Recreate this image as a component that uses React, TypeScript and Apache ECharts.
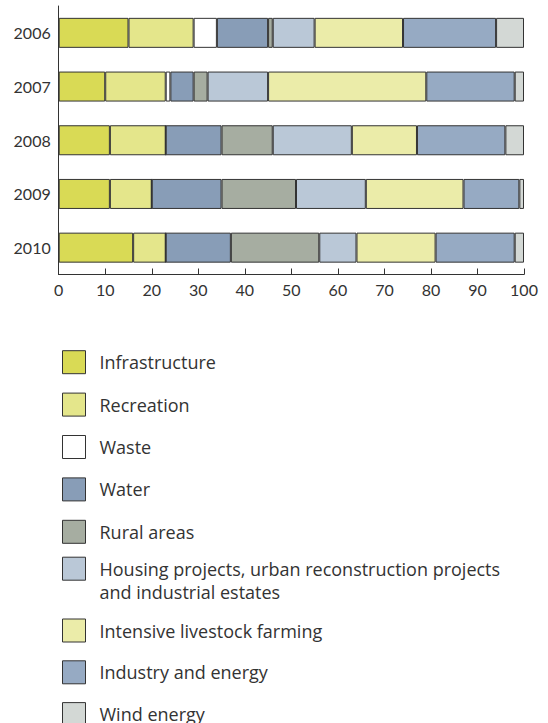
import React, { useEffect, useRef } from "react";
import * as echarts from "echarts";

const years = ["2006", "2007", "2008", "2009", "2010"];
const seriesNames = [
  "Infrastructure",
  "Recreation",
  "Waste",
  "Water",
  "Rural areas",
  "Housing projects, urban reconstruction projects and industrial estates",
  "Intensive livestock farming",
  "Industry and energy",
  "Wind energy",
];
const infrastructure = [15, 10, 11, 11, 16];
const recreation = [14, 13, 12, 9, 7];
const waste = [5, 1, 0, 0, 0];
const water = [11, 5, 12, 15, 14];
const ruralAreas = [1, 3, 11, 16, 19];
const housing = [9, 13, 17, 15, 8];
const livestock = [19, 34, 14, 21, 17];
const industry = [20, 19, 19, 12, 17];
const windEnergy = [6, 2, 4, 1, 2];
const xTicks = [0, 100, 10];

const colors = [
  "#d9da55",
  "#e4e68b",
  "#ffffff",
  "#889db7",
  "#a6ada1",
  "#bac8d7",
  "#ebeca9",
  "#96aac3",
  "#d3d8d5",
];

const AXIS_FONT = "Lato";
const LEGEND_FONT = "Open Sans";

export default function App() {
  const ref = useRef<HTMLDivElement>(null);
  useEffect(() => {
    if (!ref.current) return;
    const chart = echarts.init(ref.current, undefined, { renderer: "svg" });
    const values = [
      infrastructure,
      recreation,
      waste,
      water,
      ruralAreas,
      housing,
      livestock,
      industry,
      windEnergy,
    ];
    const legendBase = {
      orient: "vertical" as const,
      left: 62,
      padding: 0,
      height: 200,
      itemWidth: 23,
      itemHeight: 23,
      icon: "rect",
      selectedMode: false,
      itemStyle: { borderColor: "#333", borderWidth: 1 },
      textStyle: {
        fontFamily: LEGEND_FONT,
        fontSize: 18,
        color: "#333",
        padding: [0, 0, 0, 9],
        lineHeight: 23,
      },
    };
    chart.setOption({
      animation: false,
      textStyle: { fontFamily: AXIS_FONT },
      grid: { left: 58.7, right: 24, top: 6, bottom: 448.5, containLabel: false },
      xAxis: {
        type: "value",
        min: xTicks[0],
        max: xTicks[1],
        interval: xTicks[2],
        axisLine: { show: true, lineStyle: { color: "#333", width: 1 } },
        axisTick: { show: true, inside: true, length: 6, lineStyle: { color: "#333" } },
        splitLine: { show: false },
        axisLabel: { fontFamily: AXIS_FONT, fontSize: 16, color: "#333", margin: 7 },
      },
      yAxis: {
        type: "category",
        data: years,
        inverse: true,
        axisLine: { show: true, lineStyle: { color: "#333", width: 1 } },
        axisTick: { show: false },
        axisLabel: { fontFamily: AXIS_FONT, fontSize: 16, color: "#333", margin: 8 },
      },
      legend: [
        {
          ...legendBase,
          top: 350.2,
          itemGap: 18.4,
          data: seriesNames.slice(0, 5),
        },
        {
          ...legendBase,
          top: 533.3,
          itemGap: 18,
          data: seriesNames.slice(5, 6),
          formatter: () =>
            " \nHousing projects, urban reconstruction projects\nand industrial estates",
          textStyle: { ...legendBase.textStyle, lineHeight: 23.6 },
        },
        {
          ...legendBase,
          top: 618.5,
          itemGap: 17.8,
          data: seriesNames.slice(6),
        },
      ],
      series: seriesNames.map((name, i) => ({
        name,
        type: "bar",
        stack: "total",
        barWidth: 30,
        data: values[i],
        itemStyle: { color: colors[i], borderColor: "#333", borderWidth: 1 },
        emphasis: { disabled: true },
      })),
    });
    return () => chart.dispose();
  }, []);
  return (
    <div
      ref={ref}
      style={{ position: "absolute", left: 0, top: 0, width: 548, height: 723 }}
    />
  );
}
